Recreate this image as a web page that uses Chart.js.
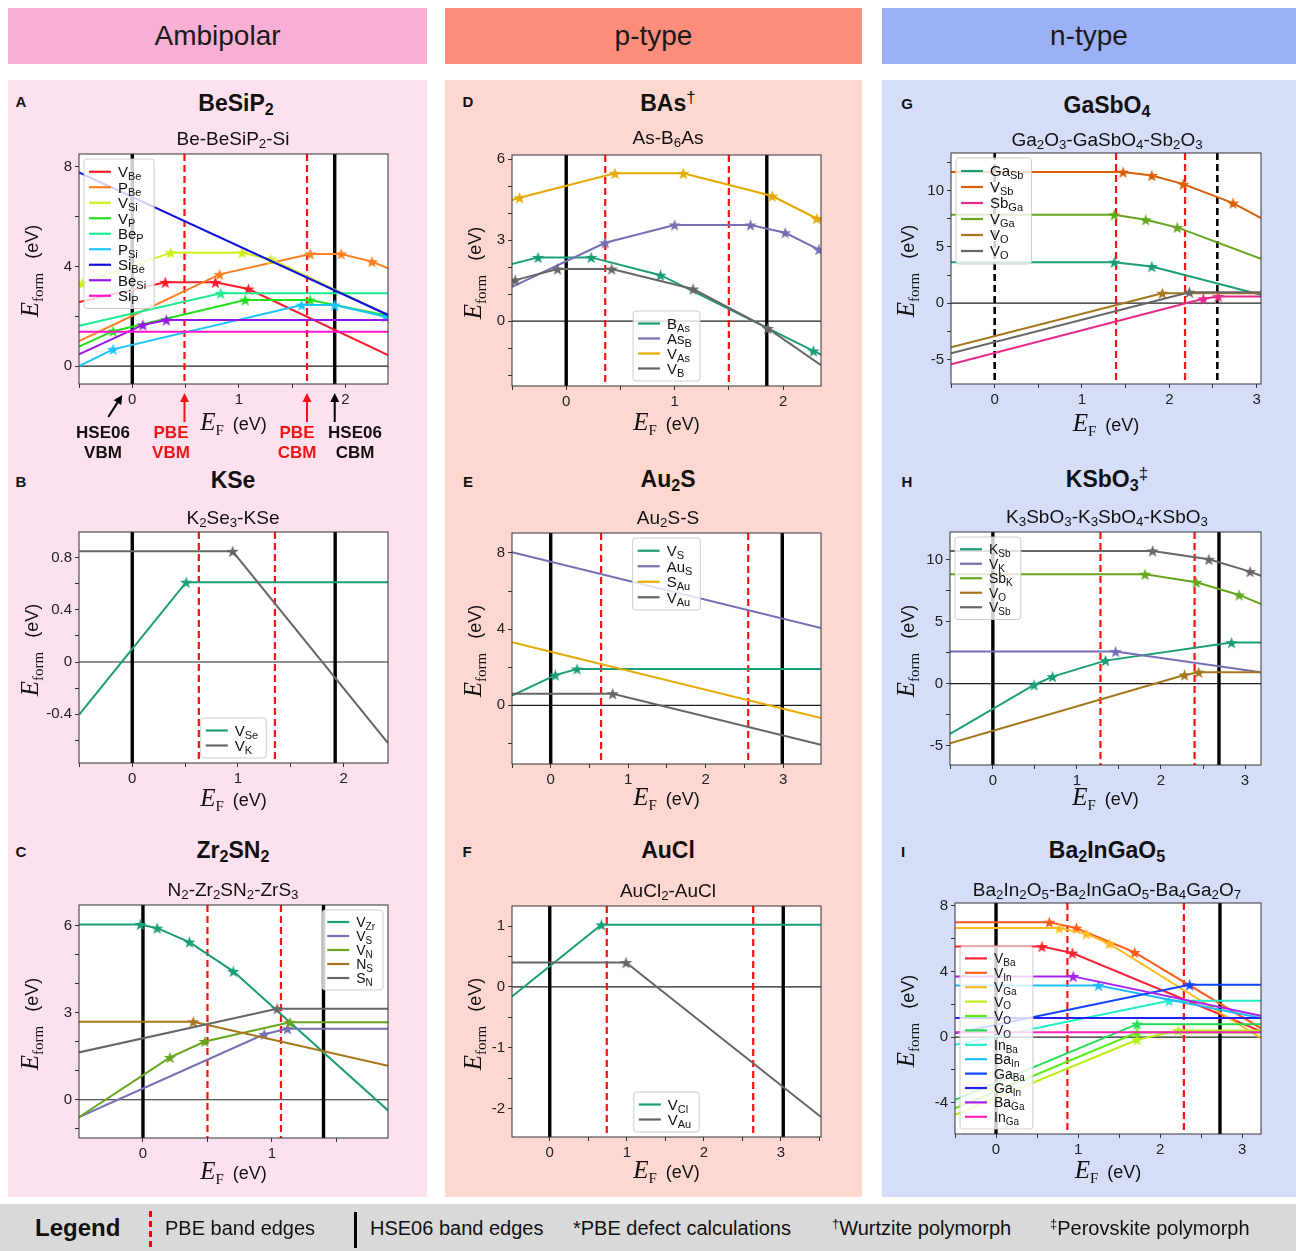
<!DOCTYPE html>
<html>
<head>
<meta charset="utf-8">
<title>Defect formation energies</title>
<script src="https://cdn.jsdelivr.net/npm/chart.js@4.4.1/dist/chart.umd.min.js"></script>
<style>
body { margin: 0; background: #fff; }
#fig { position: relative; width: 1296px; height: 1251px; overflow: hidden; font-family: "Liberation Sans", Arial, sans-serif; color: #111; }
.hdr { position: absolute; top: 8px; height: 56px; display: flex; align-items: center; justify-content: center; font-size: 28px; color: #1a1a1a; }
.col { position: absolute; top: 80px; height: 1117px; }
.c { position: absolute; transform: translate(-50%, -50%); white-space: nowrap; }
.lt { font-weight: 700; font-size: 15px; }
.ttl { font-weight: 700; font-size: 23px; }
.st { font-size: 19px; }
sub { font-size: 70%; vertical-align: -0.25em; line-height: 0; }
.dg { font-weight: 400; font-size: 17px; vertical-align: 0.45em; line-height: 0; }
.ax { font-size: 18px; }
.E { font-family: "Liberation Serif", serif; font-style: italic; font-size: 25px; }
.Es { font-family: "Liberation Serif", serif; font-size: 15px; vertical-align: -0.35em; line-height: 0; }
.ev { margin-left: 9px; }
.yl { transform: translate(-50%, -50%) rotate(-90deg); }
.ann { font-weight: 700; font-size: 17px; line-height: 20px; text-align: center; }
canvas { position: absolute; }
#bar { position: absolute; left: 0; top: 1204px; width: 1296px; height: 47px; background: #d9d9d9; }
#bar .t { position: absolute; top: 50%; transform: translateY(-50%); font-size: 20px; white-space: nowrap; }
</style>
</head>
<body>
<div id="fig">
  <div class="hdr" style="left:8px;width:419px;background:#f8afd3">Ambipolar</div>
  <div class="hdr" style="left:445px;width:417px;background:#fb8d7a">p-type</div>
  <div class="hdr" style="left:882px;width:414px;background:#9bb0f6">n-type</div>
  <div class="col" style="left:8px;width:419px;background:#fde1ef"></div>
  <div class="col" style="left:445px;width:417px;background:#fdd7d0"></div>
  <div class="col" style="left:882px;width:414px;background:#d6ddf8"></div>

  <div id="charts"></div>

  <!-- panel titles -->
  <div class="c lt" style="left:21px;top:101px">A</div>
  <div class="c ttl" style="left:236px;top:103px">BeSiP<sub>2</sub></div>
  <div class="c st" style="left:233px;top:139px">Be-BeSiP<sub>2</sub>-Si</div>

  <div class="c lt" style="left:21px;top:481px">B</div>
  <div class="c ttl" style="left:233px;top:480px">KSe</div>
  <div class="c st" style="left:233px;top:518px">K<sub>2</sub>Se<sub>3</sub>-KSe</div>

  <div class="c lt" style="left:21px;top:851px">C</div>
  <div class="c ttl" style="left:233px;top:850px">Zr<sub>2</sub>SN<sub>2</sub></div>
  <div class="c st" style="left:233px;top:890px">N<sub>2</sub>-Zr<sub>2</sub>SN<sub>2</sub>-ZrS<sub>3</sub></div>

  <div class="c lt" style="left:468px;top:101px">D</div>
  <div class="c ttl" style="left:668px;top:103px">BAs<span class="dg">†</span></div>
  <div class="c st" style="left:668px;top:138px">As-B<sub>6</sub>As</div>

  <div class="c lt" style="left:468px;top:481px">E</div>
  <div class="c ttl" style="left:668px;top:479px">Au<sub>2</sub>S</div>
  <div class="c st" style="left:668px;top:518px">Au<sub>2</sub>S-S</div>

  <div class="c lt" style="left:467px;top:851px">F</div>
  <div class="c ttl" style="left:668px;top:850px">AuCl</div>
  <div class="c st" style="left:668px;top:891px">AuCl<sub>2</sub>-AuCl</div>

  <div class="c lt" style="left:907px;top:103px">G</div>
  <div class="c ttl" style="left:1107px;top:105px">GaSbO<sub>4</sub></div>
  <div class="c st" style="left:1107px;top:140px">Ga<sub>2</sub>O<sub>3</sub>-GaSbO<sub>4</sub>-Sb<sub>2</sub>O<sub>3</sub></div>

  <div class="c lt" style="left:907px;top:481px">H</div>
  <div class="c ttl" style="left:1107px;top:479px">KSbO<sub>3</sub><span class="dg">‡</span></div>
  <div class="c st" style="left:1107px;top:517px">K<sub>3</sub>SbO<sub>3</sub>-K<sub>3</sub>SbO<sub>4</sub>-KSbO<sub>3</sub></div>

  <div class="c lt" style="left:903px;top:851px">I</div>
  <div class="c ttl" style="left:1107px;top:850px">Ba<sub>2</sub>InGaO<sub>5</sub></div>
  <div class="c st" style="left:1107px;top:890px">Ba<sub>2</sub>In<sub>2</sub>O<sub>5</sub>-Ba<sub>2</sub>InGaO<sub>5</sub>-Ba<sub>4</sub>Ga<sub>2</sub>O<sub>7</sub></div>

  <!-- band edge annotations of panel A -->
  <div class="c ann" style="left:103px;top:443px">HSE06<br>VBM</div>
  <div class="c ann" style="left:171px;top:443px;color:#f01414">PBE<br>VBM</div>
  <div class="c ann" style="left:297px;top:443px;color:#f01414">PBE<br>CBM</div>
  <div class="c ann" style="left:355px;top:443px">HSE06<br>CBM</div>

  <div id="axlabels"></div>

  <div id="bar">
    <div class="t" style="left:35px;font-weight:700;font-size:24px">Legend</div>
    <div style="position:absolute;left:149px;top:7px;height:36px;border-left:3px dashed #f00"></div>
    <div class="t" style="left:165px">PBE band edges</div>
    <div style="position:absolute;left:354px;top:8px;height:36px;width:3px;background:#000"></div>
    <div class="t" style="left:370px">HSE06 band edges</div>
    <div class="t" style="left:573px">*PBE defect calculations</div>
    <div class="t" style="left:832px"><span style="font-size:13px;vertical-align:0.5em">†</span>Wurtzite polymorph</div>
    <div class="t" style="left:1050px"><span style="font-size:13px;vertical-align:0.5em">‡</span>Perovskite polymorph</div>
  </div>
</div>

<script>
const FONT = '"Liberation Sans", Arial, sans-serif';

// Dark2 colours used by panels B-H
const TEAL = '#1b9e77', ORANGE = '#d95f02', PURPLE = '#7570b3', PINK = '#e7298a',
      GREEN = '#66a61e', YELLOW = '#e6ab02', BROWN = '#a6761d', GRAY = '#666666';

// ---- A: BeSiP2, Be-BeSiP2-Si
const aLabels = ['V_Be', 'P_Be', 'V_Si', 'V_P', 'Be_P', 'P_Si', 'Si_Be', 'Be_Si', 'Si_P'];
const aX = [
  [-0.5, 0.31, 0.78, 1.09, 2.40],
  [-0.5, 0.82, 1.67, 1.96, 2.25, 2.40],
  [-0.5, -0.47, 0.36, 1.03, 1.30, 2.40],
  [-0.5, -0.18, 1.06, 1.67, 2.40],
  [-0.5, 0.83, 2.40],
  [-0.5, -0.18, 1.59, 1.90, 2.38, 2.40],
  [-0.5, 2.40],
  [-0.5, 0.10, 0.32, 2.40],
  [-0.5, 2.40]
];
const aY = [
  [2.57, 3.36, 3.36, 3.09, 0.44],
  [1.00, 3.68, 4.50, 4.50, 4.19, 3.92],
  [3.28, 3.32, 4.55, 4.55, 4.29, 2.05],
  [0.78, 1.40, 2.65, 2.65, 2.02],
  [1.62, 2.92, 2.92],
  [0.00, 0.67, 2.45, 2.45, 1.98, 1.96],
  [7.77, 2.05],
  [0.47, 1.65, 1.85, 1.85],
  [1.38, 1.38]
];
const aStar = [[0,1,1,1,0], [0,1,1,1,1,0], [0,1,1,1,1,0], [0,1,1,1,0], [0,1,0], [0,1,1,1,1,0], [0,0], [0,1,1,0], [0,0]];
const aHse = [0, 1.90];
const aPbe = [0.49, 1.64];
const aColors = ['#ff1a2a', '#ff7f1f', '#ccf01a', '#22e01a', '#1aee8e', '#1ac4ff', '#1010e0', '#9a14e8', '#ff14c8'];

// ---- B: KSe, K2Se3-KSe
const bLabels = ['V_Se', 'V_K'];
const bX = [[-0.5, 0.51, 2.42], [-0.5, 0.95, 2.42]];
const bY = [[-0.40, 0.61, 0.61], [0.846, 0.846, -0.62]];
const bStar = [[0,1,0], [0,1,0]];
const bHse = [0, 1.92];
const bPbe = [0.63, 1.35];
const bColors = [TEAL, GRAY];

// ---- C: Zr2SN2, N2-Zr2SN2-ZrS3
const cLabels = ['V_Zr', 'V_S', 'V_N', 'N_S', 'S_N'];
const cX = [
  [-0.5, -0.02, 0.11, 0.36, 0.70, 1.90],
  [-0.5, 0.94, 1.12, 1.90],
  [-0.5, 0.21, 0.48, 1.14, 1.90],
  [-0.5, 0.39, 1.90],
  [-0.5, 1.04, 1.90]
];
const cY = [
  [6.05, 6.05, 5.92, 5.44, 4.43, -0.37],
  [-0.61, 2.26, 2.45, 2.45],
  [-0.61, 1.46, 2.01, 2.67, 2.67],
  [2.69, 2.69, 1.17],
  [1.63, 3.14, 3.14]
];
const cStar = [[0,1,1,1,1,0], [0,1,1,0], [0,1,1,1,0], [0,1,0], [0,1,0]];
const cHse = [0, 1.40];
const cPbe = [0.50, 1.07];
const cColors = [TEAL, PURPLE, GREEN, BROWN, GRAY];

// ---- D: BAs, As-B6As
const dLabels = ['B_As', 'As_B', 'V_As', 'V_B'];
const dX = [
  [-0.5, -0.26, 0.23, 0.87, 2.28, 2.35],
  [-0.5, 0.36, 1.00, 1.70, 2.02, 2.33, 2.35],
  [-0.5, -0.43, 0.45, 1.08, 1.90, 2.31, 2.35],
  [-0.5, -0.47, -0.08, 0.42, 1.17, 1.86, 2.35]
];
const dY = [
  [2.11, 2.36, 2.36, 1.70, -1.10, -1.24],
  [1.27, 2.90, 3.56, 3.56, 3.27, 2.65, 2.61],
  [4.48, 4.57, 5.47, 5.47, 4.63, 3.80, 3.72],
  [1.48, 1.52, 1.93, 1.93, 1.19, -0.27, -1.63]
];
const dStar = [[0,1,1,1,1,0], [0,1,1,1,1,1,0], [0,1,1,1,1,1,0], [0,1,1,1,1,1,0]];
const dHse = [0, 1.85];
const dPbe = [0.36, 1.50];
const dColors = [TEAL, PURPLE, YELLOW, GRAY];

// ---- E: Au2S, Au2S-S
const eLabels = ['V_S', 'Au_S', 'S_Au', 'V_Au'];
const eX = [[-0.5, 0.06, 0.34, 3.49], [-0.5, 3.49], [-0.5, 3.49], [-0.5, 0.80, 3.49]];
const eY = [[0.51, 1.59, 1.91, 1.91], [8.04, 4.06], [3.31, -0.67], [0.61, 0.61, -2.07]];
const eStar = [[0,1,1,0], [0,0], [0,0], [0,1,0]];
const eHse = [0, 2.99];
const ePbe = [0.65, 2.55];
const eColors = [TEAL, PURPLE, YELLOW, GRAY];

// ---- F: AuCl, AuCl2-AuCl
const fLabels = ['V_Cl', 'V_Au'];
const fX = [[-0.49, 0.67, 3.52], [-0.49, 0.99, 3.52]];
const fY = [[-0.16, 1.02, 1.02], [0.40, 0.40, -2.14]];
const fStar = [[0,1,0], [0,1,0]];
const fHse = [0, 3.03];
const fPbe = [0.74, 2.64];
const fColors = [TEAL, GRAY];

// ---- G: GaSbO4, Ga2O3-GaSbO4-Sb2O3
const gLabels = ['Ga_Sb', 'V_Sb', 'Sb_Ga', 'V_Ga', 'V_O', 'V_O'];
const gX = [
  [-0.5, 1.37, 1.80, 3.05],
  [-0.5, 1.47, 1.80, 2.16, 2.73, 3.05],
  [-0.5, 2.39, 2.56, 3.05],
  [-0.5, 1.37, 1.73, 2.09, 3.05],
  [-0.5, 1.92, 3.05],
  [-0.5, 2.23, 3.05]
];
const gY = [
  [3.65, 3.65, 3.26, 0.74],
  [11.66, 11.66, 11.36, 10.59, 8.90, 7.57],
  [-5.43, 0.39, 0.59, 0.59],
  [7.86, 7.86, 7.42, 6.74, 3.95],
  [-3.92, 0.89, 0.89],
  [-4.45, 0.98, 0.98]
];
const gStar = [[0,1,1,0], [0,1,1,1,1,0], [0,1,1,0], [0,1,1,1,0], [0,1,0], [0,1,0]];
const gHse = [0, 2.55];
const gPbe = [1.39, 2.18];
const gColors = [TEAL, ORANGE, PINK, GREEN, BROWN, GRAY];

// ---- H: KSbO3, K3SbO3-K3SbO4-KSbO3
const hLabels = ['K_Sb', 'V_K', 'Sb_K', 'V_O', 'V_Sb'];
const hX = [
  [-0.51, 0.49, 0.71, 1.34, 2.84, 3.19],
  [-0.51, 1.46, 3.19],
  [-0.51, 1.81, 2.42, 2.93, 3.19],
  [-0.51, 2.28, 2.45, 3.19],
  [-0.51, 1.90, 2.57, 3.06, 3.19]
];
const hY = [
  [-4.07, -0.11, 0.57, 1.86, 3.32, 3.32],
  [2.59, 2.59, 0.92],
  [8.84, 8.84, 8.19, 7.17, 6.44],
  [-4.82, 0.70, 0.92, 0.92],
  [10.73, 10.73, 10.05, 9.06, 8.71]
];
const hStar = [[0,1,1,1,1,0], [0,1,0], [0,1,1,1,0], [0,1,1,0], [0,1,1,1,0]];
const hHse = [0, 2.69];
const hPbe = [1.28, 2.40];
const hColors = [TEAL, PURPLE, GREEN, BROWN, GRAY];

// ---- I: Ba2InGaO5, Ba2In2O5-Ba2InGaO5-Ba4Ga2O7
const iLabels = ['V_Ba', 'V_In', 'V_Ga', 'V_O', 'V_O', 'V_O', 'In_Ba', 'Ba_In', 'Ga_Ba', 'Ga_In', 'Ba_Ga', 'In_Ga'];
const iX = [
  [-0.5, 0.56, 0.93, 3.23],
  [-0.5, 0.65, 0.98, 1.69, 3.23],
  [-0.5, 0.77, 1.10, 1.38, 3.23],
  [-0.5, 1.72, 2.22, 3.23],
  [-0.5, 1.72, 3.23],
  [-0.5, 1.72, 3.23],
  [-0.5, 2.11, 3.23],
  [-0.5, 1.25, 3.23],
  [-0.5, 2.36, 3.23],
  [-0.5, 3.23],
  [-0.5, 0.94, 3.23],
  [-0.5, 3.23]
];
const iY = [
  [5.52, 5.52, 5.12, 0.35],
  [7.00, 7.00, 6.64, 5.16, 0.54],
  [6.64, 6.64, 6.29, 5.69, -0.06],
  [-4.73, -0.16, 0.41, 0.41],
  [-4.33, 0.28, 0.28],
  [-3.82, 0.79, 0.79],
  [-0.47, 2.21, 2.21],
  [3.15, 3.15, 1.17],
  [0.24, 3.19, 3.19],
  [1.16, 1.16],
  [3.70, 3.70, 1.30],
  [0.30, 0.30]
];
const iStar = [[0,1,1,0], [0,1,1,1,0], [0,1,1,1,0], [0,1,1,0], [0,1,0], [0,1,0], [0,1,0], [0,1,0], [0,1,0], [0,0], [0,1,0], [0,0]];
const iHse = [0, 2.73];
const iPbe = [0.87, 2.29];
const iColors = ['#ff2233', '#ff5a1a', '#ffbb22', '#bbee11', '#55ee11', '#22dd55', '#22eecc', '#22bbff', '#1144ff', '#2222ee', '#aa22ee', '#ff22bb'];

// layout of each panel: plot rect [left, top, width, height], axis ranges, tick steps [minor, major]
const panels = [
  { rect: [79, 154, 309, 230], xr: [-0.5, 2.40], yr: [-0.72, 8.51], xt: [0.5, 1], yt: [2, 4], labels: aLabels, xs: aX, ys: aY, st: aStar, colors: aColors, hse: aHse, pbe: aPbe, leg: { loc: 'ul', fs: 15, rh: 15.5 }, arrows: true, xl: 422, yl: 30 },
  { rect: [79, 532, 309, 231], xr: [-0.504, 2.42], yr: [-0.772, 0.994], xt: [0.5, 1], yt: [0.2, 0.4], labels: bLabels, xs: bX, ys: bY, st: bStar, colors: bColors, hse: bHse, pbe: bPbe, leg: { loc: 'lc', fs: 15, rh: 15 }, xl: 798, yl: 30 },
  { rect: [79, 905, 309, 233], xr: [-0.496, 1.90], yr: [-1.32, 6.72], xt: [0.5, 1], yt: [1, 3], labels: cLabels, xs: cX, ys: cY, st: cStar, colors: cColors, hse: cHse, pbe: cPbe, leg: { loc: 'ur', fs: 14, rh: 14 }, xl: 1171, yl: 30 },
  { rect: [512, 155, 309, 231], xr: [-0.5, 2.35], yr: [-2.4, 6.15], xt: [0.5, 1], yt: [1, 3], labels: dLabels, xs: dX, ys: dY, st: dStar, colors: dColors, hse: dHse, pbe: dPbe, leg: { loc: 'lc', fs: 15, rh: 15 }, xl: 422, yl: 473 },
  { rect: [512, 533, 309, 231], xr: [-0.5, 3.49], yr: [-3.08, 9.05], xt: [0.5, 1], yt: [2, 4], labels: eLabels, xs: eX, ys: eY, st: eStar, colors: eColors, hse: eHse, pbe: ePbe, leg: { loc: 'uc', fs: 15, rh: 15.5 }, xl: 797, yl: 473 },
  { rect: [512, 906, 309, 231], xr: [-0.49, 3.52], yr: [-2.47, 1.33], xt: [0.5, 1], yt: [0.5, 1], labels: fLabels, xs: fX, ys: fY, st: fStar, colors: fColors, hse: fHse, pbe: fPbe, leg: { loc: 'lc', fs: 15, rh: 15 }, xl: 1170, yl: 473 },
  { rect: [951, 153, 310, 231], xr: [-0.5, 3.05], yr: [-7.19, 13.36], xt: [0.5, 1], yt: [2.5, 5], labels: gLabels, xs: gX, ys: gY, st: gStar, colors: gColors, hse: gHse, pbe: gPbe, hseDash: true, leg: { loc: 'ul', fs: 15, rh: 16 }, xl: 423, yl: 906 },
  { rect: [950, 532, 311, 233], xr: [-0.51, 3.19], yr: [-6.58, 12.26], xt: [0.5, 1], yt: [2.5, 5], labels: hLabels, xs: hX, ys: hY, st: hStar, colors: hColors, hse: hHse, pbe: hPbe, leg: { loc: 'ul', fs: 14, rh: 14.5 }, xl: 797, yl: 906 },
  { rect: [955, 903, 306, 231], xr: [-0.5, 3.23], yr: [-5.9, 8.17], xt: [0.5, 1], yt: [2, 4], labels: iLabels, xs: iX, ys: iY, st: iStar, colors: iColors, hse: iHse, pbe: iPbe, leg: { loc: 'll', fs: 14, rh: 14.4 }, xl: 1170, yl: 906 }
];

const PADL = 50, PADT = 14, PADR = 14, PADB = 30;

function starImage(color) {
  const r = 6.4, s = 15;
  const cv = document.createElement('canvas');
  cv.width = s; cv.height = s;
  const g = cv.getContext('2d');
  g.beginPath();
  for (let k = 0; k < 10; k++) {
    const rr = k % 2 ? r * 0.40 : r;
    const ang = -Math.PI / 2 + k * Math.PI / 5;
    g.lineTo(s / 2 + rr * Math.cos(ang), s / 2 + 0.6 + rr * Math.sin(ang));
  }
  g.closePath();
  g.fillStyle = color;
  g.fill();
  return cv;
}

function isMajor(v, m) {
  return Math.abs(v / m - Math.round(v / m)) < 1e-6;
}

function arrow(c, x1, y1, x2, y2, color) {
  const ang = Math.atan2(y2 - y1, x2 - x1), hl = 9, hw = 4.5;
  c.save();
  c.strokeStyle = color; c.fillStyle = color; c.lineWidth = 2;
  c.beginPath(); c.moveTo(x1, y1);
  c.lineTo(x2 - hl * Math.cos(ang), y2 - hl * Math.sin(ang)); c.stroke();
  c.beginPath(); c.moveTo(x2, y2);
  c.lineTo(x2 - hl * Math.cos(ang) + hw * Math.sin(ang), y2 - hl * Math.sin(ang) - hw * Math.cos(ang));
  c.lineTo(x2 - hl * Math.cos(ang) - hw * Math.sin(ang), y2 - hl * Math.sin(ang) + hw * Math.cos(ang));
  c.closePath(); c.fill();
  c.restore();
}

function drawLegend(chart, p) {
  const c = chart.ctx, a = chart.chartArea, L = p.leg;
  const fs = L.fs, sfs = Math.round(fs * 0.72), rh = L.rh, pad = 5, hl = 22, gap = 7, m = 5;
  c.save();
  let tw = 0;
  p.labels.forEach(l => {
    const parts = l.split('_');
    c.font = fs + 'px ' + FONT;
    let w = c.measureText(parts[0]).width;
    c.font = sfs + 'px ' + FONT;
    w += c.measureText(parts[1] || '').width;
    tw = Math.max(tw, w);
  });
  const w = pad + hl + gap + tw + pad + 3, h = pad * 2 + rh * p.labels.length;
  const x = L.loc[1] === 'l' ? a.left + m : L.loc[1] === 'r' ? a.right - m - w : (a.left + a.right - w) / 2;
  const y = L.loc[0] === 'u' ? a.top + m : a.bottom - m - h;
  c.beginPath();
  c.roundRect(x, y, w, h, 3);
  c.fillStyle = 'rgba(255,255,255,0.8)';
  c.fill();
  c.strokeStyle = 'rgba(200,200,200,0.9)';
  c.lineWidth = 1;
  c.stroke();
  p.labels.forEach((l, i) => {
    const parts = l.split('_');
    const cy = y + pad + rh * (i + 0.5);
    c.strokeStyle = p.colors[i]; c.lineWidth = 2.2;
    c.beginPath(); c.moveTo(x + pad, cy); c.lineTo(x + pad + hl, cy); c.stroke();
    const tx = x + pad + hl + gap, base = cy + fs * 0.36;
    c.fillStyle = '#111';
    c.font = fs + 'px ' + FONT;
    c.fillText(parts[0], tx, base);
    const bw = c.measureText(parts[0]).width;
    c.font = sfs + 'px ' + FONT;
    c.fillText(parts[1] || '', tx + bw, base + fs * 0.2);
  });
  c.restore();
}

function decor(p) {
  return {
    id: 'decor',
    beforeDraw(chart) {
      const a = chart.chartArea, c = chart.ctx;
      c.save(); c.fillStyle = '#fff';
      c.fillRect(a.left, a.top, a.width, a.height);
      c.restore();
    },
    beforeDatasetsDraw(chart) {
      const a = chart.chartArea, c = chart.ctx, xs = chart.scales.x, ys = chart.scales.y;
      c.save();
      c.beginPath(); c.rect(a.left, a.top, a.width, a.height); c.clip();
      const y0 = ys.getPixelForValue(0);
      c.strokeStyle = '#222'; c.lineWidth = 1.2;
      c.beginPath(); c.moveTo(a.left, y0); c.lineTo(a.right, y0); c.stroke();
      const vline = (v, col, lw, dash) => {
        const px = xs.getPixelForValue(v);
        c.strokeStyle = col; c.lineWidth = lw; c.setLineDash(dash);
        c.beginPath(); c.moveTo(px, a.top); c.lineTo(px, a.bottom); c.stroke();
      };
      p.pbe.forEach(v => vline(v, '#ff1010', 2.2, [7, 4]));
      p.hse.forEach(v => vline(v, '#000', p.hseDash ? 2.6 : 3.4, p.hseDash ? [7, 4] : []));
      c.restore();
    },
    afterDatasetsDraw(chart) {
      const a = chart.chartArea, c = chart.ctx, xs = chart.scales.x;
      c.save();
      c.strokeStyle = '#333'; c.lineWidth = 1;
      c.strokeRect(a.left, a.top, a.width, a.height);
      c.restore();
      drawLegend(chart, p);
      if (p.arrows) {
        const b = a.bottom, X = v => xs.getPixelForValue(v);
        arrow(c, X(p.hse[0]) - 24, b + 33, X(p.hse[0]) - 10, b + 11, '#000');
        arrow(c, X(p.pbe[0]), b + 38, X(p.pbe[0]), b + 9, '#f01414');
        arrow(c, X(p.pbe[1]), b + 38, X(p.pbe[1]), b + 9, '#f01414');
        arrow(c, X(p.hse[1]), b + 38, X(p.hse[1]), b + 9, '#000');
      }
    }
  };
}

function axis(range, step, horizontal) {
  return {
    type: 'linear',
    min: range[0], max: range[1],
    afterFit: s => { if (horizontal) s.height = PADB; else s.width = PADL; },
    ticks: {
      stepSize: step[0],
      includeBounds: false,
      autoSkip: false,
      maxRotation: 0,
      padding: 3,
      color: '#222',
      font: { family: FONT, size: 15 },
      callback: v => isMajor(v, step[1]) ? String(parseFloat(v.toFixed(2))) : ''
    },
    grid: { display: true, drawOnChartArea: false, drawTicks: true, tickLength: 4, tickColor: '#333' },
    border: { display: false }
  };
}

const holder = document.getElementById('charts');
const axHolder = document.getElementById('axlabels');

panels.forEach(p => {
  const [L, T, W, H] = p.rect;
  const extraB = p.arrows ? 45 : 0;
  const cv = document.createElement('canvas');
  cv.width = W + PADL + PADR;
  cv.height = H + PADT + PADB + extraB;
  cv.style.left = (L - PADL) + 'px';
  cv.style.top = (T - PADT) + 'px';
  holder.appendChild(cv);

  const n = p.labels.length;
  const datasets = p.labels.map((lab, i) => {
    const img = starImage(p.colors[i]);
    return {
      label: lab,
      data: p.xs[i].map((x, j) => ({ x: x, y: p.ys[i][j] })),
      showLine: true,
      borderColor: p.colors[i],
      backgroundColor: p.colors[i],
      borderWidth: 2,
      tension: 0,
      order: n - i,
      pointStyle: ctx => p.st[i][ctx.dataIndex] ? img : 'circle',
      pointRadius: ctx => p.st[i][ctx.dataIndex] ? 6 : 0
    };
  });

  new Chart(cv, {
    type: 'scatter',
    data: { datasets: datasets },
    options: {
      responsive: false,
      animation: false,
      events: [],
      devicePixelRatio: 1,
      layout: { padding: { left: 0, top: PADT, right: PADR, bottom: extraB } },
      plugins: { legend: { display: false }, tooltip: { enabled: false } },
      scales: { x: axis(p.xr, p.xt, true), y: axis(p.yr, p.yt, false) }
    },
    plugins: [decor(p)]
  });

  const xl = document.createElement('div');
  xl.className = 'c ax';
  xl.style.left = (L + W / 2) + 'px';
  xl.style.top = p.xl + 'px';
  xl.innerHTML = '<span class="E">E</span><span class="Es">F</span><span class="ev">(eV)</span>';
  axHolder.appendChild(xl);

  const yl = document.createElement('div');
  yl.className = 'c ax yl';
  yl.style.left = p.yl + 'px';
  yl.style.top = (T + H / 2 + 2) + 'px';
  yl.innerHTML = '<span class="E">E</span><span class="Es">form</span><span class="ev" style="margin-left:14px">(eV)</span>';
  axHolder.appendChild(yl);
});
</script>
</body>
</html>
